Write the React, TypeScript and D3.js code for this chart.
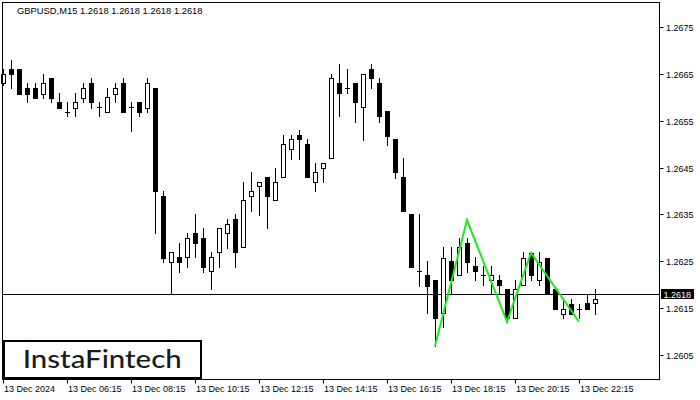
import React, { useEffect } from "react";
import * as d3 from "d3";

const opens = [1.2663, 1.2666, 1.2666, 1.2662, 1.2662, 1.26608, 1.26641, 1.26589, 1.26569, 1.26578, 1.26599, 1.2663, 1.26579, 1.26569, 1.26608, 1.2663, 1.26579, 1.26589, 1.26578, 1.2662,
  1.26389, 1.26249, 1.26259, 1.26259, 1.2631, 1.26299, 1.26229, 1.2627, 1.2631, 1.2634, 1.2628, 1.26389, 1.2641, 1.26429, 1.2638, 1.26429, 1.2649, 1.2652, 1.265, 1.26419,
  1.26449, 1.2647, 1.2663, 1.2662, 1.2663, 1.26579, 1.2666, 1.2663, 1.26571, 1.26511, 1.2643, 1.26351, 1.26229, 1.2622, 1.2621, 1.26139, 1.26251, 1.2622, 1.26289, 1.2624,
  1.2622, 1.26209, 1.2621, 1.2619, 1.26128, 1.26199, 1.26268, 1.26209, 1.26258, 1.2619, 1.26138, 1.26159, 1.26149, 1.2616, 1.2616];
const highs = [1.2666, 1.2668, 1.2666, 1.2663, 1.2663, 1.2665, 1.26641, 1.26609, 1.26589, 1.26609, 1.2663, 1.26641, 1.26589, 1.2662, 1.2663, 1.26641, 1.26589, 1.26589, 1.26641, 1.2662,
  1.264, 1.2627, 1.2629, 1.2631, 1.26351, 1.2632, 1.2627, 1.2632, 1.2634, 1.26351, 1.26419, 1.26441, 1.26419, 1.26429, 1.26449, 1.2652, 1.2652, 1.2653, 1.2651, 1.26459,
  1.26459, 1.2665, 1.26671, 1.2666, 1.2663, 1.2665, 1.26671, 1.26641, 1.26571, 1.26511, 1.2647, 1.26351, 1.26351, 1.26251, 1.2621, 1.2628, 1.2628, 1.26299, 1.263, 1.2626,
  1.2624, 1.2624, 1.2622, 1.2619, 1.2621, 1.2627, 1.2627, 1.2627, 1.26258, 1.2619, 1.26169, 1.26169, 1.26159, 1.2618, 1.2619];
const lows = [1.26626, 1.26619, 1.26608, 1.26589, 1.26599, 1.26599, 1.26589, 1.26578, 1.26559, 1.26559, 1.26589, 1.26578, 1.26559, 1.26569, 1.26589, 1.26569, 1.26529, 1.26559, 1.26569, 1.2631,
  1.26249, 1.26182, 1.26228, 1.26238, 1.26259, 1.26228, 1.26191, 1.26238, 1.26279, 1.26238, 1.2628, 1.26358, 1.26349, 1.2632, 1.2638, 1.26429, 1.26469, 1.26469, 1.26429, 1.26399,
  1.26419, 1.2647, 1.26559, 1.26609, 1.26548, 1.26509, 1.26619, 1.26548, 1.26498, 1.26428, 1.26358, 1.26238, 1.26198, 1.26139, 1.26069, 1.2611, 1.2618, 1.2622, 1.26228, 1.26209,
  1.26199, 1.2618, 1.2618, 1.26121, 1.26128, 1.26199, 1.2621, 1.26199, 1.2618, 1.26149, 1.26128, 1.26138, 1.26128, 1.26149, 1.26138];
const closes = [1.2665, 1.26649, 1.26608, 1.26608, 1.26599, 1.2663, 1.26599, 1.26578, 1.26569, 1.26589, 1.2662, 1.26589, 1.26579, 1.266, 1.2662, 1.26569, 1.26579, 1.26569, 1.2663, 1.26399,
  1.26258, 1.2627, 1.26249, 1.26299, 1.26288, 1.26238, 1.26259, 1.2632, 1.2633, 1.26269, 1.2638, 1.26399, 1.26419, 1.26389, 1.26419, 1.265, 1.2651, 1.2651, 1.26429, 1.2644,
  1.26459, 1.26641, 1.26609, 1.2662, 1.26589, 1.2665, 1.26641, 1.26559, 1.26518, 1.2644, 1.26358, 1.26238, 1.26229, 1.26198, 1.26128, 1.26258, 1.2621, 1.2628, 1.26249, 1.26229,
  1.2622, 1.2622, 1.26199, 1.26128, 1.2619, 1.26258, 1.2622, 1.26249, 1.2618, 1.26149, 1.26149, 1.26138, 1.26149, 1.26149, 1.26169];

const timeTickIndex = [0, 8, 16, 24, 32, 40, 48, 56, 64, 72];
const timeTickLabels = ["13 Dec 2024", "13 Dec 06:15", "13 Dec 08:15", "13 Dec 10:15", "13 Dec 12:15", "13 Dec 14:15", "13 Dec 16:15", "13 Dec 18:15", "13 Dec 20:15", "13 Dec 22:15"];
const priceTicks = [1.2675, 1.2665, 1.2655, 1.2645, 1.2635, 1.2625, 1.2615, 1.2605];
const currentPrice = 1.2618;
const patternIndex = [54, 58, 63, 66, 72];
const patternPrice = [1.26069, 1.26338, 1.26121, 1.26268, 1.26121];
const titleText = "GBPUSD,M15  1.2618 1.2618 1.2618 1.2618";
const logoText = "InstaFintech";

export default function App() {
  useEffect(() => {
    document.body.style.margin = "0";
  }, []);

  const W = 700, H = 400;
  const L = 2.5, R = 659.5, T = 2.5, B = 379.5;
  const x = d3.scaleLinear().domain([0, 74]).range([3, 595]);
  const y = d3.scaleLinear().domain([1.2605, 1.2675]).range([355, 27]);
  const py = (v: number) => Math.round(y(v)) + 0.5;
  const font = "'Liberation Sans', Arial, sans-serif";

  const candles = opens.map((o, i) => {
    const c = closes[i];
    const cx = Math.round(x(i));
    const yo = py(o), yc = py(c);
    const yh = py(highs[i]), yl = py(lows[i]);
    const top = Math.min(yo, yc), bot = Math.max(yo, yc);
    const bull = c > o;
    const doji = Math.abs(yo - yc) < 1;
    return (
      <g key={i}>
        <line x1={cx + 0.5} x2={cx + 0.5} y1={yh - 0.5} y2={yl + 0.5} stroke="#000" strokeWidth={1} />
        {doji ? (
          <line x1={cx - 2} x2={cx + 3} y1={yc} y2={yc} stroke="#000" strokeWidth={1} />
        ) : bull ? (
          <rect x={cx - 1.5} y={top} width={4} height={bot - top} fill="#fff" stroke="#000" strokeWidth={1} />
        ) : (
          <rect x={cx - 2} y={top - 0.5} width={5} height={bot - top + 1} fill="#000" />
        )}
      </g>
    );
  });

  const line = d3.line<number>().x((d, i) => x(patternIndex[i])).y((d) => y(d));
  const cpY = py(currentPrice);

  return (
    <svg width={W} height={H} style={{ position: "absolute", left: 0, top: 0, background: "#fff" }}>
      <rect x={0} y={0} width={W} height={H} fill="#fff" />
      <line x1={L} x2={R} y1={cpY} y2={cpY} stroke="#000" strokeWidth={1} />
      {candles}
      <path d={line(patternPrice) || ""} fill="none" stroke="#1ee81e" strokeWidth={2} />
      <rect x={L} y={T} width={R - L} height={B - T} fill="none" stroke="#000" strokeWidth={1} />
      <text x={17} y={14} fontFamily={font} fontSize={9.4} fill="#000">{titleText}</text>
      {priceTicks.map((p) => (
        <g key={p}>
          <line x1={R} x2={R + 4} y1={py(p)} y2={py(p)} stroke="#000" />
          <text x={666} y={py(p) + 3.5} fontFamily={font} fontSize={9} fill="#000">{p.toFixed(4)}</text>
        </g>
      ))}
      <rect x={661} y={cpY - 5.5} width={33} height={10} fill="#000" />
      <text x={663.5} y={cpY + 3.5} fontFamily={font} fontSize={9} fill="#fff">{currentPrice.toFixed(4)}</text>
      {timeTickIndex.map((ti, k) => {
        const tx = Math.round(x(ti)) + 0.5;
        return (
          <g key={ti}>
            <line x1={tx} x2={tx} y1={B} y2={B + 4} stroke="#000" />
            <text x={tx + 0.5} y={392} fontFamily={font} fontSize={9} fill="#000">{timeTickLabels[k]}</text>
          </g>
        );
      })}
      <rect x={4} y={341} width={197} height={37} fill="#fff" stroke="#000" strokeWidth={2} />
      <text x={22.7} y={368.3} fontFamily="Lato, 'Noto Sans', sans-serif" fontWeight={500} fontSize={25} fill="#1a1a1a" textLength={159} lengthAdjust="spacingAndGlyphs">{logoText}</text>
    </svg>
  );
}
